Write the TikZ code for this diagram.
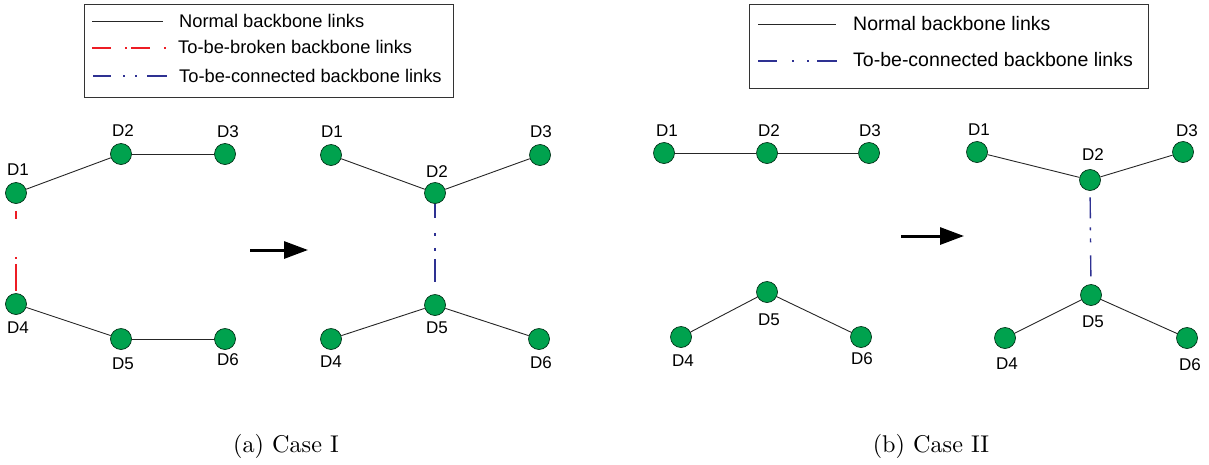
\documentclass[tikz,border=0pt]{standalone}
\usepackage{fontspec}
\newfontfamily\arialfont{Liberation Sans}
\usetikzlibrary{arrows.meta}
\definecolor{nodegreen}{RGB}{0,162,78}
\definecolor{breakred}{RGB}{237,28,36}
\definecolor{linkblue}{RGB}{46,49,146}

\begin{document}
\begin{tikzpicture}[x=1pt,y=-1pt,
  dev/.style={circle,fill=nodegreen,draw=black!70!nodegreen,line width=0.7pt,
              minimum size=21pt,inner sep=0pt},
  tag/.style={font=\arialfont\fontsize{17}{17}\selectfont,inner sep=0pt},
  legtext/.style={font=\arialfont\fontsize{18.3}{18.3}\selectfont,inner sep=0pt,anchor=west},
  legtextb/.style={font=\arialfont\fontsize{19.5}{19.5}\selectfont,inner sep=0pt,anchor=west},
  legbox/.style={draw=black!80,line width=0.9pt},
  link/.style={line width=0.9pt,black!85},
  brokenlink/.style={line width=1.4pt,breakred},
  newlink/.style={line width=1.4pt,linkblue},
  move/.style={line width=3pt,-{Triangle[length=24pt,width=17pt]}},
  caption/.style={font=\fontsize{10}{12}\selectfont,scale=2.42,inner sep=0pt}
]
\useasboundingbox (0,0) rectangle (1209,464);

% ---------------- legend, case I ----------------
\draw[legbox] (84,4) rectangle (453,97);
\coordinate (la1) at (92,21);  \coordinate (lb1) at (163,21);
\coordinate (la2) at (92,48);  \coordinate (lb2) at (166,48);
\coordinate (la3) at (93,76);  \coordinate (lb3) at (168,76);
\draw[link] (la1) -- (lb1);
\draw[brokenlink,dash pattern=on 19pt off 14pt on 2pt off 4pt] (la2) -- (lb2);
\draw[newlink,dash pattern=on 18pt off 12pt on 2pt off 10pt on 2pt off 10pt on 20pt off 5pt] (la3) -- (lb3);
\node[legtext] (lt1) at (179,21) {Normal backbone links};
\node[legtext] (lt2) at (178,47) {To-be-broken backbone links};
\node[legtext] (lt3) at (179,76) {To-be-connected backbone links};

% ---------------- case I, before ----------------
\node[dev] (a1) at (16,193) {};
\node[dev] (a2) at (121,154) {};
\node[dev] (a3) at (225,154) {};
\node[dev] (a4) at (16,304) {};
\node[dev] (a5) at (121,339) {};
\node[dev] (a6) at (225,339) {};
\path (a1) ++(2,-23) node[tag] {D1};
\path (a2) ++(2,-23) node[tag] {D2};
\path (a3) ++(3,-22) node[tag] {D3};
\path (a4) ++(2,24) node[tag] {D4};
\path (a5) ++(2,25) node[tag] {D5};
\path (a6) ++(3,21) node[tag] {D6};
\draw[link] (a1) -- (a2);
\draw[link] (a2) -- (a3);
\draw[link] (a4) -- (a5);
\draw[link] (a5) -- (a6);
\draw[brokenlink,dash pattern=on 8pt off 38pt on 2pt off 5pt on 27pt off 7pt,dash phase=80pt]
  (a1) -- (a4);

\draw[move] (250,250) -- (308,250);

% ---------------- case I, after ----------------
\node[dev] (b1) at (331,155) {};
\node[dev] (b2) at (435,193) {};
\node[dev] (b3) at (540,155) {};
\node[dev] (b4) at (331,339) {};
\node[dev] (b5) at (435,305) {};
\node[dev] (b6) at (539,339) {};
\path (b1) ++(1,-23) node[tag] {D1};
\path (b2) ++(2,-21) node[tag] {D2};
\path (b3) ++(1,-23) node[tag] {D3};
\path (b4) ++(0,23) node[tag] {D4};
\path (b5) ++(2,23) node[tag] {D5};
\path (b6) ++(2,24) node[tag] {D6};
\draw[link] (b1) -- (b2);
\draw[link] (b2) -- (b3);
\draw[link] (b4) -- (b5);
\draw[link] (b5) -- (b6);
\draw[newlink,dash pattern=on 14pt off 15pt on 3pt off 12pt on 3pt off 8pt on 23pt off 30pt]
  (b2) -- (b5);

% ---------------- legend, case II ----------------
\draw[legbox] (749,4) rectangle (1148,88);
\coordinate (lc1) at (758,24);  \coordinate (ld1) at (836,24);
\coordinate (lc2) at (758,61);  \coordinate (ld2) at (837,61);
\draw[link] (lc1) -- (ld1);
\draw[newlink,dash pattern=on 19pt off 15pt on 2pt off 13pt on 2pt off 8pt on 20pt off 5pt] (lc2) -- (ld2);
\node[legtextb] (lt4) at (853,24) {Normal backbone links};
\node[legtextb] (lt5) at (853,60) {To-be-connected backbone links};

% ---------------- case II, before ----------------
\node[dev] (c1) at (664,153) {};
\node[dev] (c2) at (767,153) {};
\node[dev] (c3) at (869,153) {};
\node[dev] (c4) at (681,337) {};
\node[dev] (c5) at (767,292) {};
\node[dev] (c6) at (861,337) {};
\path (c1) ++(3,-22) node[tag] {D1};
\path (c2) ++(2,-22) node[tag] {D2};
\path (c3) ++(1,-22) node[tag] {D3};
\path (c4) ++(2,24) node[tag] {D4};
\path (c5) ++(2,28) node[tag] {D5};
\path (c6) ++(1,22) node[tag] {D6};
\draw[link] (c1) -- (c2);
\draw[link] (c2) -- (c3);
\draw[link] (c4) -- (c5);
\draw[link] (c5) -- (c6);

\draw[move] (901,236) -- (964,236);

% ---------------- case II, after ----------------
\node[dev] (d1) at (977,152) {};
\node[dev] (d2) at (1090,180) {};
\node[dev] (d3) at (1183,152) {};
\node[dev] (d4) at (1005,338) {};
\node[dev] (d5) at (1091,295) {};
\node[dev] (d6) at (1187,338) {};
\path (d1) ++(2,-22) node[tag] {D1};
\path (d2) ++(3,-25) node[tag] {D2};
\path (d3) ++(4,-21) node[tag] {D3};
\path (d4) ++(2,26) node[tag] {D4};
\path (d5) ++(2,27) node[tag] {D5};
\path (d6) ++(3,27) node[tag] {D6};
\draw[link] (d1) -- (d2);
\draw[link] (d2) -- (d3);
\draw[link] (d4) -- (d5);
\draw[link] (d5) -- (d6);
\draw[newlink,dash pattern=on 21pt off 9pt on 3pt off 8pt on 4pt off 13pt on 21pt off 15pt,dash phase=87.5pt]
  (d2) -- (d5);

% ---------------- captions ----------------
\node[caption] (capa) at (286,446) {(a) Case I};
\node[caption] (capb) at (931,446) {(b) Case II};
\end{tikzpicture}
\end{document}
